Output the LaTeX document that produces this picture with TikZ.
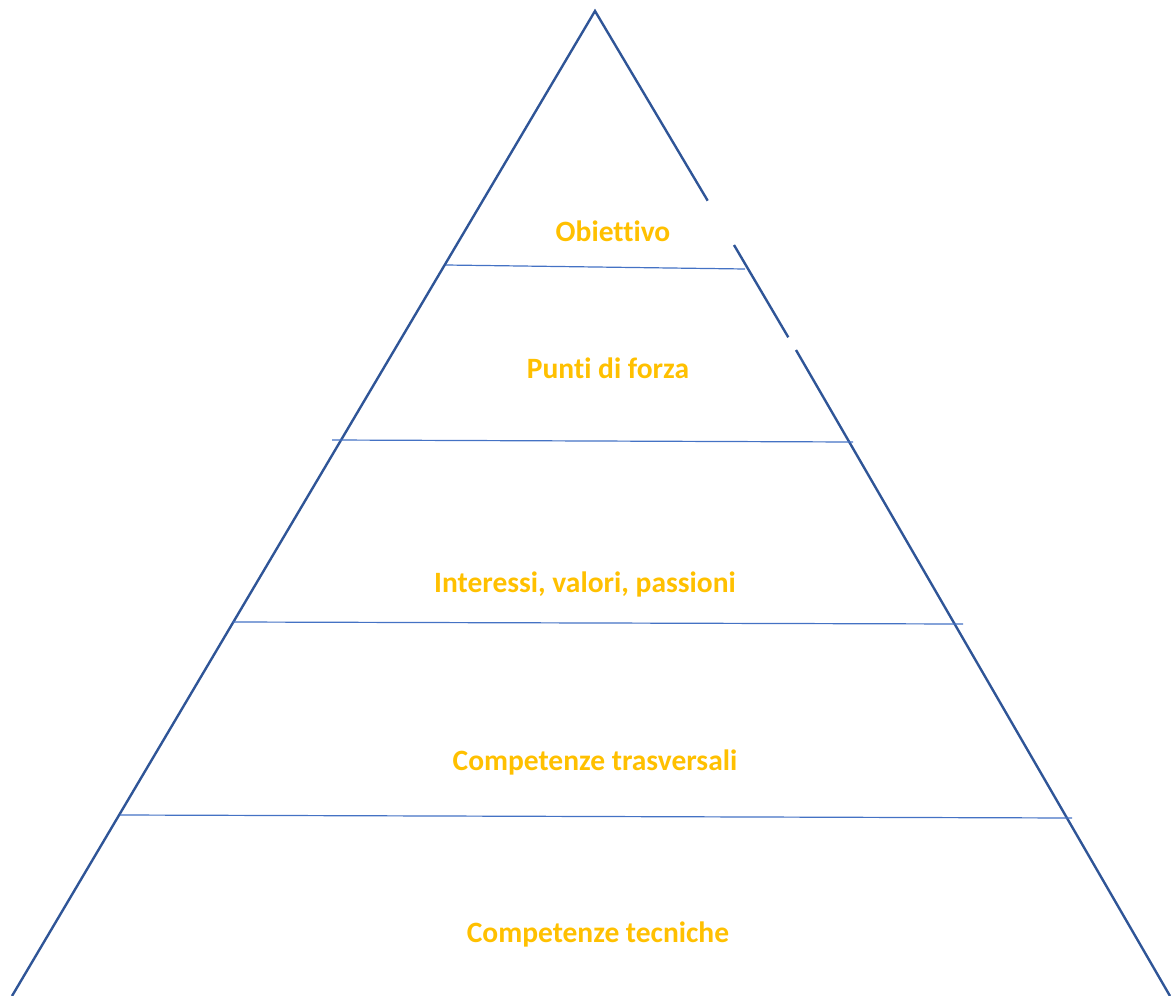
\documentclass[tikz,border=0pt]{standalone}
\usepackage{fontspec}
\setmainfont[Ligatures=NoCommon]{Carlito}
\definecolor{edgeblue}{HTML}{2F5597}
\definecolor{rowblue}{HTML}{4472C4}
\definecolor{labgold}{HTML}{FFC000}
\begin{document}
\begin{tikzpicture}[x=1pt,y=-1pt,
  edge/.style={draw=edgeblue,line width=2.4pt},
  row/.style={draw=rowblue,line width=1.2pt},
  lab/.style={text=labgold,font=\bfseries\fontsize{29.5}{34}\selectfont,inner sep=0pt}]
\useasboundingbox (0,0) rectangle (1171,996);
\coordinate (apex) at (595,11);
\coordinate (bl) at (12,996);
\coordinate (br) at (1170,996);
\coordinate (g1a) at (707.7,200.7);
\coordinate (g1b) at (734,245);
\coordinate (g2a) at (788.3,337.3);
\coordinate (g2b) at (796,350);
\draw[edge] (bl) -- (apex) -- (g1a);
\draw[edge] (g1b) -- (g2a);
\draw[edge] (g2b) -- (br);
\coordinate (r1l) at (446,265); \coordinate (r1r) at (745,269);
\coordinate (r2l) at (332,440); \coordinate (r2r) at (853,442);
\coordinate (r3l) at (233,622); \coordinate (r3r) at (963,624);
\coordinate (r4l) at (120,815); \coordinate (r4r) at (1072,818);
\draw[row] (r1l) -- (r1r);
\draw[row] (r2l) -- (r2r);
\draw[row] (r3l) -- (r3r);
\draw[row] (r4l) -- (r4r);
\node[lab] (t1) at (613,231) {Obiettivo};
\node[lab] (t2) at (608,368) {Punti di forza};
\node[lab] (t3) at (585,584) {Interessi, valori, passioni};
\node[lab] (t4) at (595,762) {Competenze trasversali};
\node[lab] (t5) at (598,934) {Competenze tecniche};
\end{tikzpicture}
\end{document}
